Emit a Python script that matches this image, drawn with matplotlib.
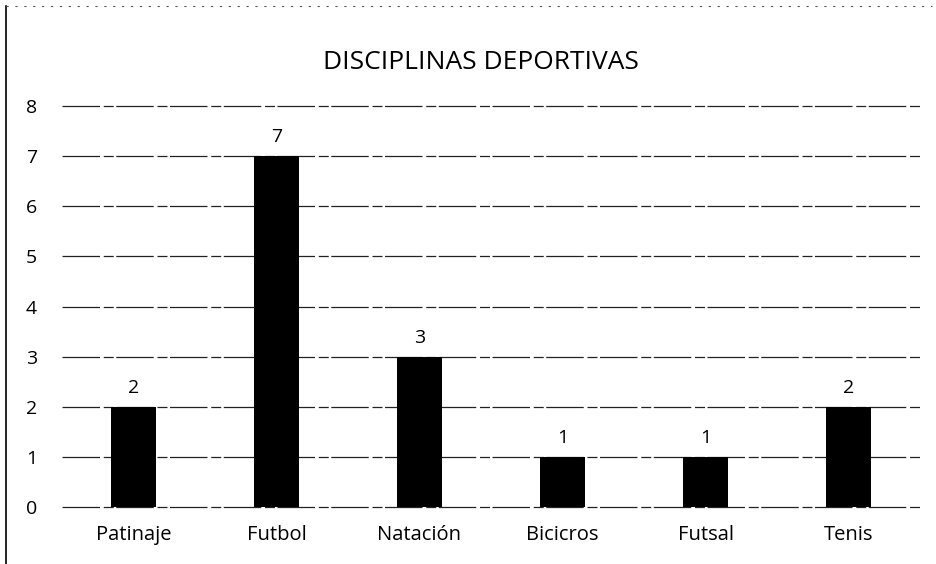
import matplotlib.pyplot as plt
from matplotlib.lines import Line2D

categories = ['Patinaje', 'Futbol', 'Natación', 'Bicicros', 'Futsal', 'Tenis']
values = [2, 7, 3, 1, 1, 2]
y_ticks = [0, 1, 2, 3, 4, 5, 6, 7, 8]

plt.rcParams['font.family'] = ['Open Sans', 'DejaVu Sans']

fig = plt.figure(figsize=(9.37, 5.64), dpi=100)
ax = fig.add_axes([0.066, 0.101, 0.916, 0.711])

x = range(len(categories))
ax.bar(x, values, width=0.31, color='black', zorder=3)
for xi, v in zip(x, values):
    ax.text(xi, v + 0.2, str(v), ha='center', va='bottom', fontsize=14)

ax.set_xlim(-0.5, len(categories) - 0.5)
ax.set_ylim(0, 8)
ax.set_yticks(y_ticks)
ax.set_xticks(list(x))
ax.set_xticklabels(categories, fontsize=14.5)
ax.tick_params(axis='y', labelsize=14, length=0, pad=18)
ax.tick_params(axis='x', length=0, pad=13)
ax.grid(axis='y', color='#222222', linewidth=0.9, linestyle=(0, (30, 3, 8, 2)), zorder=0)
for g in ax.get_ygridlines():
    g.set_clip_on(False)
for s in ax.spines.values():
    s.set_visible(False)

fig.text(0.513, 0.89, 'DISCIPLINAS DEPORTIVAS', ha='center', va='center', fontsize=19)

# scanned border of the chart box
fig.add_artist(Line2D([0.006, 0.006], [0.0, 0.99], color='black', linewidth=1.2))
fig.add_artist(Line2D([0.006, 0.995], [0.99, 0.99], color='#555555', linewidth=0.8,
                      linestyle=(0, (2, 6))))

fig.savefig('out.png', dpi=100)
